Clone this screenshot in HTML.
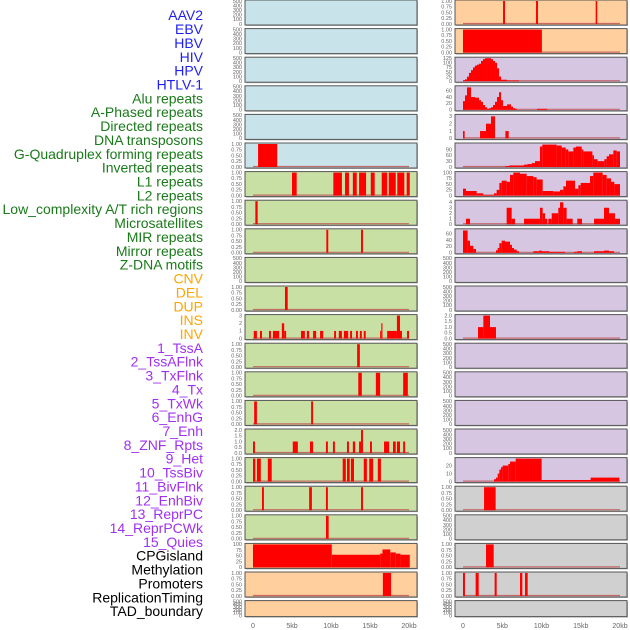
<!DOCTYPE html>
<html><head><meta charset="utf-8">
<style>
html,body{margin:0;padding:0;background:#fff;}
svg{display:block;font-family:"Liberation Sans",sans-serif;}
</style></head>
<body>
<svg id="chart" width="630" height="630" viewBox="0 0 630 630" xmlns="http://www.w3.org/2000/svg"></svg>
<script>
// ---------- labels ----------
const labelNames = ["AAV2","EBV","HBV","HIV","HPV","HTLV-1","Alu repeats","A-Phased repeats","Directed repeats","DNA transposons","G-Quadruplex forming repeats","Inverted repeats","L1 repeats","L2 repeats","Low_complexity A/T rich regions","Microsatellites","MIR repeats","Mirror repeats","Z-DNA motifs","CNV","DEL","DUP","INS","INV","1_TssA","2_TssAFlnk","3_TxFlnk","4_Tx","5_TxWk","6_EnhG","7_Enh","8_ZNF_Rpts","9_Het","10_TssBiv","11_BivFlnk","12_EnhBiv","13_ReprPC","14_ReprPCWk","15_Quies","CPGisland","Methylation","Promoters","ReplicationTiming","TAD_boundary"];
const labelGroups = [6,13,5,15,5];
const groupColors = ["#1f1ff0","#1a7a1a","#ffa500","#a030f0","#000000"];

// ---------- x axis ----------
const xTickValues = [0,5,10,15,20];
const xTickLabels = ["0","5kb","10kb","15kb","20kb"];

// ---------- y tick sets ----------
const ticksEmpty = [0,100,200,300,400,500];
const ticksFrac = [0,0.25,0.5,0.75,1];

// ---------- left column segments [startKb, endKb, value] ----------
const L5 = [[0.65,3.1,1]];
const L6 = [[5.0,5.6,1],[10.3,11.4,1],[11.8,12.3,1],[12.8,13.3,1],[13.6,14.5,1],[15.1,15.6,1],[16.5,17.2,1],[17.4,18.3,1],[18.5,19.4,1],[19.7,20.1,1]];
const L7 = [[0.3,0.6,1]];
const L8 = [[9.4,9.65,1],[13.85,14.1,1]];
const L10 = [[4.1,4.45,1]];
const L11 = [[0.1,0.5,1],[0.9,1.15,1],[2.05,2.3,1],[2.55,3.35,1],[3.7,4.0,2],[4.0,4.25,1],[6.15,6.65,1],[6.9,7.2,1],[7.7,8.1,1],[8.6,9.0,1],[10.4,10.65,1],[11.0,11.4,1],[11.65,12.2,1],[12.45,12.7,1],[13.2,13.45,1],[13.7,13.95,1],[14.2,14.45,1],[16.3,16.45,1],[16.45,16.6,2],[17.2,18.45,1],[18.45,18.85,3],[18.85,19.1,1],[19.75,20.0,1]];
const L12 = [[13.35,13.7,1]];
const L13 = [[13.5,13.95,1],[15.75,16.3,1],[19.25,19.85,1]];
const L14 = [[0.15,0.5,1],[7.45,7.7,1]];
const L15 = [[0,0.25,1],[5.1,5.75,1],[7.3,7.7,1],[9.35,9.6,1],[10.25,10.5,1],[12.05,12.3,1],[12.8,13.1,1],[13.6,13.85,1],[13.85,14.1,2],[15.0,15.25,1],[16.8,17.45,1],[17.95,18.3,1],[18.45,18.85,1],[19.25,19.5,1]];
const L16 = [[0,0.3,1],[0.5,1.0,1],[1.9,2.4,1],[11.5,11.9,1],[12.05,12.4,1],[12.55,12.95,1],[14.2,14.6,1],[14.9,15.4,1],[16.0,16.4,1]];
const L17 = [[1.15,1.4,1],[7.2,7.55,1],[9.35,9.6,1],[13.85,14.1,1]];
const L18 = [[9.35,9.7,1]];
const L19 = [[0,10.1,100],[10.1,16.3,55],[16.3,16.6,60],[16.6,17.6,78],[17.6,18.3,65],[18.3,18.9,60],[18.9,20.1,55]];
const L20 = [[16.65,17.7,1]];

// ---------- right column segments ----------
const R0 = [[5.1,5.35,1],[9.3,9.55,1],[16.9,17.1,1]];
const R1 = [[0,10.05,1]];
const R2bins = [5,10,25,45,60,75,85,90,95,110,120,125,125,125,120,110,100,70,25,8,8,8,4,4,4,4,4,4];
const R3bins = [27,45,70,70,40,40,38,38,30,25,15,8,3,5,8,15,25,40,55,30,12,12,17,17,10,5,3,0,0,0,0,0,0,0,0,0,0,3,3,3,3,3];
const R4 = [[0,0.21,1],[2.17,2.93,1],[2.93,3.57,2],[3.57,4.08,3],[5.4,5.82,1]];
const R5 = [[5.39,5.9,5],[5.9,7.77,8],[7.77,8.2,12],[8.2,8.75,15],[8.75,9.17,20],[9.17,9.8,30],[9.8,10.1,105],[10.1,11.93,115],[11.93,12.57,110],[12.57,13.08,100],[13.08,13.42,90],[13.42,14.06,80],[14.06,14.39,100],[14.39,15.12,105],[15.12,15.33,90],[15.33,16.48,80],[16.48,16.69,60],[16.69,17.15,40],[17.15,18.0,30],[18.0,18.3,40],[18.3,18.6,55],[18.6,19.15,65],[19.15,19.58,85],[19.58,20.0,80]];
const R6 = [[0,0.38,30],[0.38,1.74,20],[1.74,2.59,10],[2.59,3.95,3],[3.95,4.29,10],[4.29,4.63,25],[4.63,4.93,55],[4.93,5.56,65],[5.56,5.99,60],[5.99,6.41,90],[6.41,7.26,100],[7.26,8.11,95],[8.11,8.96,85],[8.96,9.38,80],[9.38,10.15,70],[10.15,11.5,20],[11.5,12.36,18],[12.36,12.78,25],[12.78,13.12,40],[13.12,14.27,65],[14.27,14.69,30],[14.69,14.99,45],[14.99,16.18,55],[16.18,16.6,85],[16.6,17.79,100],[17.79,18.3,90],[18.3,18.85,75],[18.85,19.28,60],[19.28,20.0,50]];
const R7 = [[0.38,0.89,1],[5.56,6.2,3],[6.2,6.62,1],[7.77,9.8,1],[9.8,10.15,3],[10.15,10.45,2],[10.45,10.74,1],[10.87,11.3,1],[11.3,12.14,2],[12.14,12.36,3],[12.36,12.78,4],[12.78,13.2,3],[13.2,13.97,1],[14.56,15.16,1],[16.69,17.96,1],[17.96,18.6,3],[18.6,19.36,2],[19.36,20.0,1]];
const R8 = [[0,0.59,70],[0.59,0.89,38],[0.89,1.32,22],[1.32,1.66,12],[4.2,4.42,8],[4.42,4.63,15],[4.63,4.93,30],[4.93,5.35,38],[5.35,5.99,35],[5.99,6.24,25],[6.24,6.5,15],[6.5,6.84,10],[6.84,7.13,5],[8.96,9.72,5],[9.72,10.02,7],[10.02,11.0,5],[11.0,13.0,3],[14.14,14.56,3],[14.56,15.16,5],[16.69,17.96,5],[17.96,18.6,7],[18.6,19.24,5]];
const R11 = [[1.91,2.59,1],[2.59,3.44,2],[3.44,4.2,1]];
const R16 = [[3.95,4.2,3],[4.2,4.42,5],[4.42,4.63,10],[4.63,4.84,15],[4.84,5.05,18],[5.05,5.77,20],[5.77,5.99,22],[5.99,6.71,25],[6.71,10.02,28.7],[10.02,16.26,2],[16.26,19.92,5]];
const R17 = [[2.68,4.16,1]];
const R19 = [[2.93,3.91,1]];
const R20 = [[0,0.25,1],[1.61,2.0,1],[4.03,4.29,1],[7.26,7.56,1],[7.9,8.24,1]];

function binsToSegs(bins){ const out=[]; bins.forEach((v,i)=>{ if(v>0) out.push([i*0.255,(i+1)*0.255,v]); }); return out; }

const BLUE="#c9e3ea", GREEN="#c9e0a5", ORANGE="#ffcf9e", PURPLE="#d6c6e2", GREY="#d0d0d0";
const fracLbl=["0.00","0.25","0.50","0.75","1.00"];
const emptyLbl=["0","100","200","300","400","500"];
const leftPanels = [
 [[],500,ticksEmpty,emptyLbl,BLUE],[[],500,ticksEmpty,emptyLbl,BLUE],[[],500,ticksEmpty,emptyLbl,BLUE],
 [[],500,ticksEmpty,emptyLbl,BLUE],[[],500,ticksEmpty,emptyLbl,BLUE],[L5,1,ticksFrac,fracLbl,BLUE],
 [L6,1,ticksFrac,fracLbl,GREEN],[L7,1,ticksFrac,fracLbl,GREEN],[L8,1,ticksFrac,fracLbl,GREEN],
 [[],500,ticksEmpty,emptyLbl,GREEN],[L10,1,ticksFrac,fracLbl,GREEN],[L11,3,[0,1,2,3],["0","1","2","3"],GREEN],
 [L12,1,ticksFrac,fracLbl,GREEN],[L13,1,ticksFrac,fracLbl,GREEN],[L14,1,ticksFrac,fracLbl,GREEN],
 [L15,2,[0,0.5,1,1.5,2],["0.0","0.5","1.0","1.5","2.0"],GREEN],[L16,1,ticksFrac,fracLbl,GREEN],[L17,1,ticksFrac,fracLbl,GREEN],
 [L18,1,ticksFrac,fracLbl,GREEN],[L19,100,[0,25,50,75,100],["0","25","50","75","100"],ORANGE],[L20,1,ticksFrac,fracLbl,ORANGE],
 [[],500,ticksEmpty,emptyLbl,ORANGE]
];
const rightPanels = [
 [R0,1,ticksFrac,fracLbl,ORANGE],[R1,1,ticksFrac,fracLbl,ORANGE],
 [binsToSegs(R2bins),125,[0,25,50,75,100,125],["0","25","50","75","100","125"],PURPLE],
 [binsToSegs(R3bins),72,[0,20,40,60],["0","20","40","60"],PURPLE],
 [R4,3.13,[0,1,2,3],["0","1","2","3"],PURPLE],
 [R5,118,[0,30,60,90],["0","30","60","90"],PURPLE],
 [R6,100,[0,25,50,75,100],["0","25","50","75","100"],PURPLE],
 [R7,4.2,[0,1,2,3,4],["0","1","2","3","4"],PURPLE],
 [R8,72,[0,20,40,60],["0","20","40","60"],PURPLE],
 [[],500,ticksEmpty,emptyLbl,PURPLE],[[],500,ticksEmpty,emptyLbl,PURPLE],
 [R11,2,[0,0.5,1,1.5,2],["0.0","0.5","1.0","1.5","2.0"],PURPLE],
 [[],500,ticksEmpty,emptyLbl,PURPLE],[[],500,ticksEmpty,emptyLbl,PURPLE],[[],500,ticksEmpty,emptyLbl,PURPLE],
 [[],500,ticksEmpty,emptyLbl,PURPLE],
 [R16,28.7,[0,10,20],["0","10","20"],PURPLE],
 [R17,1,ticksFrac,fracLbl,GREY],[[],500,ticksEmpty,emptyLbl,GREY],[R19,1,ticksFrac,fracLbl,GREY],
 [R20,1,ticksFrac,fracLbl,GREY],[[],500,ticksEmpty,emptyLbl,GREY]
];

const NS="http://www.w3.org/2000/svg";
const svg=document.getElementById('chart');
function mk(tag,attrs,parent){const e=document.createElementNS(NS,tag);for(const k in attrs)e.setAttribute(k,attrs[k]);(parent||svg).appendChild(e);return e;}

let li=0;
labelGroups.forEach((n,g)=>{for(let j=0;j<n;j++){
  const t=mk('text',{x:203,y:16.5+li*13.86,'text-anchor':'end','dominant-baseline':'middle','font-size':14,fill:groupColors[g]});
  
  
  t.textContent=labelNames[li]; li++;
}});

const cols=[{x0:245,x1:417,z:253,s:7.8,panels:leftPanels,name:'left'},{x0:455,x1:627,z:463,s:7.85,panels:rightPanels,name:'right'}];
cols.forEach(col=>{
  const xs=kb=>col.z+kb*col.s;
  col.panels.forEach((p,i)=>{
    const [segs,ymax,ticks,tlbl,bg]=p;
    const top=i*28.6, h=(i===21)?16:25, bot=top+h;
    const ys=v=>bot-1-v/ymax*(h-2);
    const g=mk('g',{});
    
    
    mk('rect',{x:col.x0+1,y:top+1,width:col.x1-col.x0,height:h,fill:'#b8b8b8'},g);
    mk('rect',{x:col.x0,y:top,width:col.x1-col.x0,height:h,fill:bg,stroke:'#555',"stroke-width":1},g);
    ticks.forEach((tv,k)=>{
      const t=mk('text',{x:col.x0-3,y:ys(tv)+1.8,'text-anchor':'end','font-size':5.5,fill:'#666'},g);
      
      
      t.textContent=tlbl[k];
    });
    if(segs.length){
      mk('line',{x1:xs(0),x2:xs(20),y1:bot-1.5,y2:bot-1.5,stroke:'#c05050','stroke-width':1.2,opacity:0.8},g);
    }
    segs.forEach(s=>{
      const r=mk('rect',{x:xs(s[0]),y:ys(s[2]),width:Math.max(0.8,xs(s[1])-xs(s[0])),height:ys(0)-ys(s[2]),fill:'#ff0000'},g);
      
      
    });
  });
  xTickValues.forEach((v,k)=>{
    const t=mk('text',{x:xs(v),y:628,'text-anchor':'middle','font-size':7,fill:'#666'});
    
    
    t.textContent=xTickLabels[k];
  });
});
</script>
</body></html>
